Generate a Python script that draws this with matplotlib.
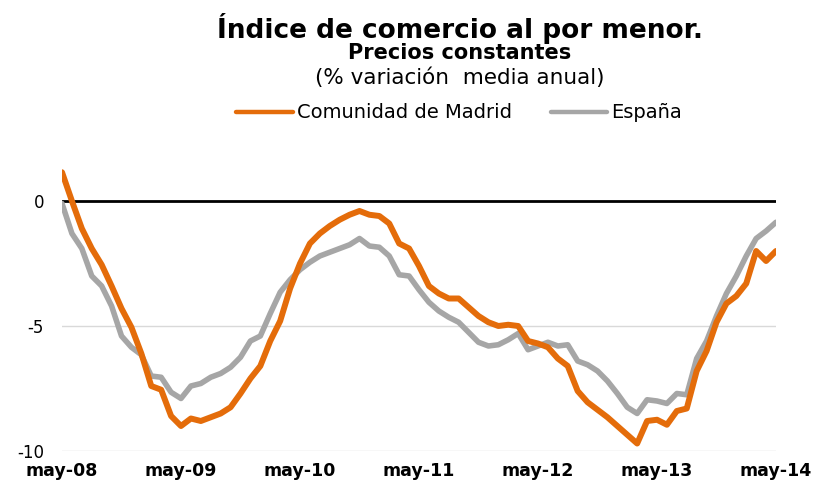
import matplotlib
matplotlib.use('Agg')
from matplotlib import pyplot as plt
from matplotlib.lines import Line2D

plt.rcParams['font.family'] = ['DejaVu Sans']

# monthly, may-08 .. may-14
tick_labels = ['may-08', 'may-09', 'may-10', 'may-11', 'may-12', 'may-13', 'may-14']

madrid = [1.15, 0.0, -1.1, -1.9, -2.55, -3.4, -4.3, -5.05, -6.1, -7.4, -7.55, -8.6,
          -9.0, -8.7, -8.8, -8.65, -8.5, -8.25, -7.7, -7.1, -6.6, -5.6, -4.8, -3.5,
          -2.5, -1.7, -1.3, -1.0, -0.75, -0.55, -0.4, -0.55, -0.6, -0.9, -1.7, -1.9,
          -2.6, -3.4, -3.7, -3.9, -3.9, -4.25, -4.6, -4.85, -5.0, -4.95, -5.0, -5.6,
          -5.7, -5.85, -6.3, -6.6, -7.6, -8.05, -8.35, -8.65, -9.0, -9.35, -9.7, -8.8,
          -8.75, -8.95, -8.4, -8.3, -6.8, -6.0, -4.85, -4.1, -3.8, -3.3, -2.0, -2.4,
          -2.0]

espana = [-0.1, -1.3, -1.9, -3.0, -3.4, -4.2, -5.4, -5.85, -6.15, -7.0, -7.05, -7.65,
          -7.9, -7.4, -7.3, -7.05, -6.9, -6.65, -6.25, -5.6, -5.4, -4.5, -3.65, -3.15,
          -2.75, -2.45, -2.2, -2.05, -1.9, -1.75, -1.5, -1.8, -1.85, -2.2, -2.95, -3.0,
          -3.55, -4.05, -4.4, -4.65, -4.85, -5.25, -5.65, -5.8, -5.75, -5.55, -5.3, -5.95,
          -5.8, -5.65, -5.8, -5.75, -6.4, -6.55, -6.8, -7.2, -7.7, -8.25, -8.5, -7.95,
          -8.0, -8.1, -7.7, -7.75, -6.3, -5.6, -4.6, -3.7, -3.0, -2.2, -1.5, -1.2,
          -0.85]

orange = '#E46C0A'
grey = '#A6A6A6'

fig = plt.figure(figsize=(8.17, 4.80), dpi=100)
ax = fig.add_axes([62 / 817, 29 / 480, 714 / 817, 300 / 480])

months = list(range(len(madrid)))

# grid lines and zero line
for y in [-5, -10]:
    ax.axhline(y, color='#D9D9D9', lw=1, zorder=1)
ax.axhline(0, color='black', lw=2, zorder=2)

ax.plot(months, espana, color=grey, lw=4, solid_capstyle='round', zorder=3)
ax.plot(months, madrid, color=orange, lw=4.3, solid_capstyle='round', zorder=4)

ax.set_xlim(0, 72)
ax.set_ylim(-10, 2)
ax.set_xticks(range(0, 73, 12))
ax.set_xticklabels(tick_labels, fontsize=12.5, fontweight='bold')
ax.set_yticks([0, -5, -10])
ax.set_yticklabels(['0', '-5', '-10'], fontsize=12)
ax.tick_params(axis='both', length=0)
ax.tick_params(axis='y', pad=13)
ax.tick_params(axis='x', pad=8)
for s in ax.spines.values():
    s.set_visible(False)

fig.text(460 / 817, 1 - 29 / 480, 'Índice de comercio al por menor.', ha='center', va='center',
         fontsize=19, fontweight='bold')
fig.text(460 / 817, 1 - 53 / 480, 'Precios constantes', ha='center', va='center',
         fontsize=15, fontweight='bold')
fig.text(460 / 817, 1 - 78 / 480, '(% variación  media anual)', ha='center', va='center',
         fontsize=15.5)

handles = [Line2D([], [], color=orange, lw=3.2, solid_capstyle='round'),
           Line2D([], [], color=grey, lw=3.2, solid_capstyle='round')]
fig.legend(handles, ['Comunidad de Madrid', 'España'], loc='center',
           bbox_to_anchor=(459 / 817, 1 - 113 / 480), ncol=2, frameon=False,
           fontsize=14, handlelength=2.9, handletextpad=0.2, columnspacing=2.0)

fig.savefig('out.png', dpi=100)
